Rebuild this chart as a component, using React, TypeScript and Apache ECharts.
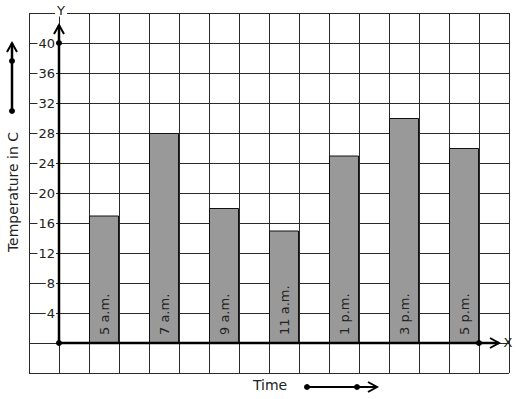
import React, { useEffect, useRef } from "react";
import * as echarts from "echarts";

const categories = ["5 a.m.", "7 a.m.", "9 a.m.", "11 a.m.", "1 p.m.", "3 p.m.", "5 p.m."];
const temperatures = [17, 28, 18, 15, 25, 30, 26];
const yTickLabels = [4, 8, 12, 16, 20, 24, 28, 32, 36, 40];

const FONT = "DejaVu Sans";
const INK = "#222";

export default function App() {
  const ref = useRef<HTMLDivElement>(null);
  useEffect(() => {
    document.body.style.margin = "0";
    const chart = echarts.init(ref.current!, null, { renderer: "svg" });
    const barData = temperatures.map((v, i) => [i * 2 + 1.5, v]);
    const dot = (x: number, y: number) => ({
      type: "circle",
      shape: { cx: x, cy: y, r: 3 },
      style: { fill: "#000" },
      z: 100,
    });
    const line = (x1: number, y1: number, x2: number, y2: number) => ({
      type: "line",
      shape: { x1, y1, x2, y2 },
      style: { stroke: "#000", lineWidth: 2.5 },
      z: 100,
    });
    const head = (pts: number[][]) => ({
      type: "polyline",
      shape: { points: pts },
      style: { stroke: "#000", lineWidth: 2, fill: null },
      z: 100,
    });
    chart.setOption({
      animation: false,
      backgroundColor: "#fff",
      grid: { left: 29, right: 8, top: 13, bottom: 26, containLabel: false },
      xAxis: {
        type: "value",
        min: -1,
        max: 15,
        interval: 1,
        axisLabel: { show: false },
        axisTick: { show: false },
        axisLine: { show: false },
        splitLine: { show: true, lineStyle: { color: "#2a2a2a", width: 1 } },
      },
      yAxis: {
        type: "value",
        min: -4,
        max: 44,
        interval: 4,
        position: "left",
        offset: -30,
        axisLine: { show: false, onZero: false },
        axisTick: { show: false },
        splitLine: { show: true, lineStyle: { color: "#2a2a2a", width: 1 } },
        axisLabel: {
          margin: 3,
          fontFamily: FONT,
          fontSize: 13,
          color: INK,
          backgroundColor: "#fff",
          padding: [0, 1],
          formatter: (v: number) => (yTickLabels.includes(v) ? String(v) : ""),
        },
      },
      series: [
        {
          type: "bar",
          data: barData,
          barWidth: 30,
          itemStyle: { color: "#999999", borderColor: "#111", borderWidth: 1 },
          label: {
            show: true,
            position: "insideBottom",
            rotate: 90,
            align: "left",
            verticalAlign: "middle",
            distance: 8,
            fontFamily: FONT,
            fontSize: 13,
            color: INK,
            formatter: (p: any) => categories[p.dataIndex],
          },
        },
      ],
      graphic: [
        // Y axis
        line(59, 343, 59, 25),
        head([[54, 34], [59, 25], [64, 34]]),
        dot(59, 343),
        dot(59, 43),
        // X axis
        line(59, 343, 499, 343),
        head([[490, 338], [499, 343], [490, 348]]),
        dot(479, 343),
        {
          type: "text",
          x: 61,
          y: 10,
          style: {
            text: "Y",
            font: `13px ${FONT}`,
            fill: INK,
            align: "center",
            verticalAlign: "middle",
            backgroundColor: "#fff",
            padding: [0, 2],
          },
          z: 100,
        },
        {
          type: "text",
          x: 508,
          y: 342,
          style: {
            text: "X",
            font: `13px ${FONT}`,
            fill: INK,
            align: "center",
            verticalAlign: "middle",
          },
          z: 100,
        },
        // left arrow
        line(12, 111, 12, 43),
        head([[7, 52], [12, 43], [17, 52]]),
        dot(12, 61),
        dot(12, 111),
        {
          type: "text",
          x: 13,
          y: 192,
          rotation: Math.PI / 2,
          style: {
            text: "Temperature in C",
            font: `14px ${FONT}`,
            fill: INK,
            align: "center",
            verticalAlign: "middle",
          },
          z: 100,
        },
        // bottom
        {
          type: "text",
          x: 270,
          y: 385,
          style: {
            text: "Time",
            font: `14px ${FONT}`,
            fill: INK,
            align: "center",
            verticalAlign: "middle",
          },
          z: 100,
        },
        { ...line(307, 387, 377, 387), style: { stroke: "#000", lineWidth: 2 } },
        head([[368, 382], [377, 387], [368, 392]]),
        dot(307, 387),
        dot(357, 387),
      ],
    });
    return () => chart.dispose();
  }, []);
  return <div ref={ref} style={{ width: 517, height: 399 }} />;
}
